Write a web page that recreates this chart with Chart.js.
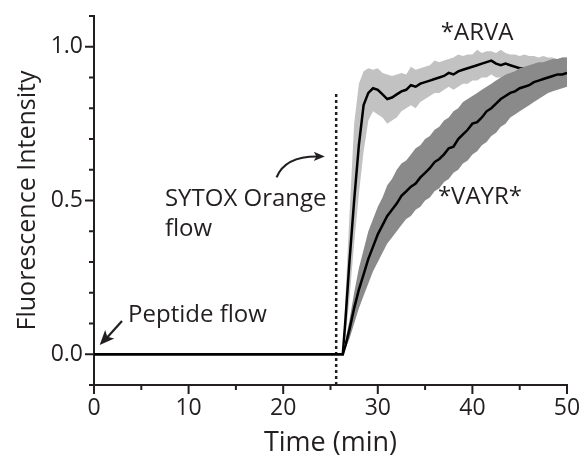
<!DOCTYPE html>
<html>
<head>
<meta charset="utf-8">
<script src="https://cdn.jsdelivr.net/npm/chart.js@4.4.0/dist/chart.umd.min.js"></script>
<style>
  body { margin: 0; background: #fff; }
</style>
</head>
<body>
<canvas id="fluoChart" width="583" height="460"></canvas>
<script>
// Time points (min)
const timeMin = [0, 26.3, 26.6, 27, 27.5, 28, 28.5, 29, 29.5, 30, 30.5, 31, 31.5, 32, 32.5, 33, 33.5, 34, 34.5, 35,
  35.5, 36, 36.5, 37, 37.5, 38, 38.5, 39, 39.5, 40, 40.5, 41, 41.5, 42, 42.5, 43, 43.5, 44, 44.5, 45,
  45.5, 46, 46.5, 47, 47.5, 48, 48.5, 49, 49.5, 50];

// *ARVA mean and spread
const arvaMean = [0, 0, 0.12, 0.30, 0.50, 0.68, 0.81, 0.85, 0.865, 0.86, 0.845, 0.83, 0.835, 0.845, 0.855, 0.86, 0.875, 0.87, 0.88, 0.885,
  0.89, 0.895, 0.90, 0.905, 0.915, 0.91, 0.92, 0.925, 0.93, 0.935, 0.94, 0.945, 0.95, 0.955, 0.945, 0.94, 0.945, 0.94, 0.935, 0.93,
  0.93, 0.925, 0.93, 0.925, 0.925, 0.93, 0.93, 0.925, 0.93, 0.93];
const arvaHigh = [0, 0, 0.20, 0.45, 0.75, 0.88, 0.92, 0.93, 0.925, 0.93, 0.915, 0.91, 0.905, 0.91, 0.915, 0.91, 0.935, 0.925, 0.93, 0.935,
  0.94, 0.955, 0.95, 0.955, 0.96, 0.965, 0.975, 0.97, 0.975, 0.975, 0.99, 0.98, 0.985, 0.985, 0.98, 0.99, 0.98, 0.975, 0.975, 0.97,
  0.975, 0.97, 0.97, 0.965, 0.97, 0.965, 0.965, 0.96, 0.965, 0.965];
const arvaLow = [0, 0, 0.06, 0.18, 0.36, 0.52, 0.66, 0.76, 0.79, 0.78, 0.77, 0.75, 0.76, 0.77, 0.79, 0.80, 0.81, 0.80, 0.82, 0.83,
  0.84, 0.85, 0.85, 0.86, 0.87, 0.86, 0.87, 0.88, 0.88, 0.89, 0.89, 0.90, 0.90, 0.91, 0.90, 0.90, 0.91, 0.90, 0.90, 0.90,
  0.89, 0.89, 0.89, 0.89, 0.89, 0.89, 0.89, 0.89, 0.89, 0.89];

// *VAYR* mean and spread
const vayrMean = [0, 0, 0.03, 0.08, 0.15, 0.21, 0.26, 0.31, 0.35, 0.39, 0.42, 0.45, 0.47, 0.49, 0.515, 0.53, 0.545, 0.555, 0.575, 0.59,
  0.605, 0.625, 0.635, 0.65, 0.67, 0.675, 0.70, 0.715, 0.73, 0.75, 0.755, 0.77, 0.79, 0.80, 0.815, 0.83, 0.84, 0.85, 0.855, 0.865,
  0.87, 0.875, 0.885, 0.89, 0.895, 0.90, 0.905, 0.91, 0.91, 0.915];
const vayrHigh = [0, 0, 0.05, 0.11, 0.20, 0.28, 0.34, 0.40, 0.44, 0.48, 0.51, 0.55, 0.57, 0.60, 0.62, 0.63, 0.65, 0.67, 0.68, 0.70,
  0.71, 0.73, 0.74, 0.76, 0.77, 0.79, 0.80, 0.82, 0.83, 0.84, 0.85, 0.86, 0.87, 0.88, 0.89, 0.90, 0.91, 0.915, 0.92, 0.93,
  0.935, 0.94, 0.945, 0.95, 0.95, 0.955, 0.96, 0.96, 0.965, 0.965];
const vayrLow = [0, 0, 0.02, 0.05, 0.10, 0.15, 0.19, 0.23, 0.27, 0.30, 0.33, 0.36, 0.38, 0.40, 0.42, 0.44, 0.45, 0.47, 0.48, 0.50,
  0.51, 0.53, 0.54, 0.56, 0.57, 0.59, 0.60, 0.62, 0.63, 0.65, 0.66, 0.68, 0.69, 0.71, 0.72, 0.74, 0.75, 0.77, 0.78, 0.79,
  0.80, 0.81, 0.82, 0.83, 0.84, 0.85, 0.855, 0.86, 0.865, 0.87];

// dashed marker for SYTOX Orange flow
const flowTime = 25.6;
const flowMarkerY = [-0.1, 0.85];

const xMajorTicks = [0, 10, 20, 30, 40, 50];
const xMinorTicks = [5, 15, 25, 35, 45];
const yMajorTicks = [0, 0.5, 1.0];
const yMinorTicks = [-0.1, 0.1, 0.2, 0.3, 0.4, 0.6, 0.7, 0.8, 0.9, 1.1];

const ink = '#231f20';
const fontFamily = '"Open Sans", "Noto Sans", sans-serif';

const pts = (ys) => timeMin.map((t, i) => ({ x: t, y: ys[i] }));

// axis tick marks (major long, minor short)
const tickMarks = {
  id: 'tickMarks',
  afterDraw(chart) {
    const { ctx, scales: { x, y }, chartArea } = chart;
    ctx.save();
    ctx.strokeStyle = ink;
    ctx.lineWidth = 2;
    ctx.beginPath();
    yMajorTicks.forEach(v => { const p = y.getPixelForValue(v); ctx.moveTo(chartArea.left, p); ctx.lineTo(chartArea.left - 9, p); });
    yMinorTicks.forEach(v => { const p = y.getPixelForValue(v); ctx.moveTo(chartArea.left, p); ctx.lineTo(chartArea.left - 5, p); });
    xMajorTicks.forEach(v => { const p = x.getPixelForValue(v); ctx.moveTo(p, chartArea.bottom); ctx.lineTo(p, chartArea.bottom + 9); });
    xMinorTicks.forEach(v => { const p = x.getPixelForValue(v); ctx.moveTo(p, chartArea.bottom); ctx.lineTo(p, chartArea.bottom + 5); });
    ctx.stroke();
    ctx.restore();
  }
};

function arrowHead(ctx, tx, ty, angle, size) {
  ctx.beginPath();
  ctx.moveTo(tx, ty);
  ctx.lineTo(tx - size * Math.cos(angle - 0.4), ty - size * Math.sin(angle - 0.4));
  ctx.lineTo(tx - size * 0.7 * Math.cos(angle), ty - size * 0.7 * Math.sin(angle));
  ctx.lineTo(tx - size * Math.cos(angle + 0.4), ty - size * Math.sin(angle + 0.4));
  ctx.closePath();
  ctx.fill();
}

// text labels and arrows
const notes = {
  id: 'notes',
  afterDraw(chart) {
    const { ctx, scales: { x, y } } = chart;
    ctx.save();
    ctx.fillStyle = ink;
    ctx.strokeStyle = ink;
    ctx.font = '24px ' + fontFamily;
    ctx.textBaseline = 'middle';

    ctx.textAlign = 'center';
    ctx.fillText('*ARVA', x.getPixelForValue(40.5), y.getPixelForValue(1.045));
    ctx.fillText('*VAYR*', x.getPixelForValue(40.8), y.getPixelForValue(0.51));

    ctx.textAlign = 'left';
    ctx.fillText('SYTOX Orange', x.getPixelForValue(7.5), y.getPixelForValue(0.503));
    ctx.fillText('flow', x.getPixelForValue(7.5), y.getPixelForValue(0.406));
    ctx.fillText('Peptide flow', x.getPixelForValue(3.6), y.getPixelForValue(0.127));

    // peptide arrow
    const ax0 = x.getPixelForValue(2.96), ay0 = y.getPixelForValue(0.108);
    const ax1 = x.getPixelForValue(0.6), ay1 = y.getPixelForValue(0.03);
    ctx.lineWidth = 2.2;
    ctx.beginPath();
    ctx.moveTo(ax0, ay0);
    ctx.lineTo(ax1 + 7, ay1 - 7);
    ctx.stroke();
    arrowHead(ctx, ax1, ay1, Math.atan2(ay1 - ay0, ax1 - ax0), 16);

    // curved SYTOX arrow
    const cx0 = x.getPixelForValue(19.3), cy0 = y.getPixelForValue(0.575);
    const cxc = x.getPixelForValue(20.2), cyc = y.getPixelForValue(0.645);
    const cx1 = x.getPixelForValue(24.4), cy1 = y.getPixelForValue(0.643);
    ctx.beginPath();
    ctx.moveTo(cx0, cy0);
    ctx.quadraticCurveTo(cxc, cyc, cx1 - 6, cy1);
    ctx.stroke();
    arrowHead(ctx, cx1, cy1, Math.atan2(cy1 - cyc, cx1 - cxc), 12);
    ctx.restore();
  }
};

new Chart(document.getElementById('fluoChart'), {
  type: 'line',
  data: {
    datasets: [
      { data: pts(vayrMean), borderColor: '#000', borderWidth: 2.5, pointRadius: 0, fill: false, order: 0 },
      { data: pts(vayrHigh), borderWidth: 0, backgroundColor: '#8a8a8a', pointRadius: 0, fill: 2, order: 1 },
      { data: pts(vayrLow), borderWidth: 0, pointRadius: 0, fill: false, order: 1 },
      { data: pts(arvaMean), borderColor: '#000', borderWidth: 2.5, pointRadius: 0, fill: false, order: 2 },
      { data: pts(arvaHigh), borderWidth: 0, backgroundColor: '#c2c2c2', pointRadius: 0, fill: 5, order: 3 },
      { data: pts(arvaLow), borderWidth: 0, pointRadius: 0, fill: false, order: 3 },
      { data: flowMarkerY.map(v => ({ x: flowTime, y: v })), borderColor: ink, borderWidth: 2.5, borderDash: [3, 3], pointRadius: 0, fill: false, order: 4 }
    ]
  },
  options: {
    responsive: false,
    animation: false,
    events: [],
    layout: { padding: { top: 16, right: 16, left: 0, bottom: 0 } },
    plugins: {
      legend: { display: false },
      tooltip: { enabled: false },
      filler: { drawTime: 'beforeDatasetDraw' }
    },
    scales: {
      x: {
        type: 'linear',
        min: 0,
        max: 50,
        afterFit: (s) => { s.height = 75; s.paddingLeft = 0; s.paddingRight = 0; },
        ticks: { stepSize: 10, color: ink, padding: 10, font: { family: fontFamily, size: 23 } },
        grid: { drawOnChartArea: false, drawTicks: false },
        border: { color: ink, width: 2 },
        title: { display: true, text: 'Time (min)', color: ink, font: { family: fontFamily, size: 27 }, padding: { top: 2, bottom: 0 } }
      },
      y: {
        min: -0.1,
        max: 1.1,
        afterFit: (s) => { s.width = 94; s.paddingTop = 0; s.paddingBottom = 0; },
        ticks: {
          stepSize: 0.5,
          includeBounds: false,
          color: ink,
          padding: 11,
          font: { family: fontFamily, size: 23 },
          callback: (v) => yMajorTicks.some(t => Math.abs(t - v) < 1e-6) ? v.toFixed(1) : ''
        },
        grid: { drawOnChartArea: false, drawTicks: false },
        border: { color: ink, width: 2 },
        title: { display: true, text: 'Fluorescence Intensity', color: ink, font: { family: fontFamily, size: 25 }, padding: { top: 13, bottom: 0 } }
      }
    }
  },
  plugins: [tickMarks, notes]
});
</script>
</body>
</html>
